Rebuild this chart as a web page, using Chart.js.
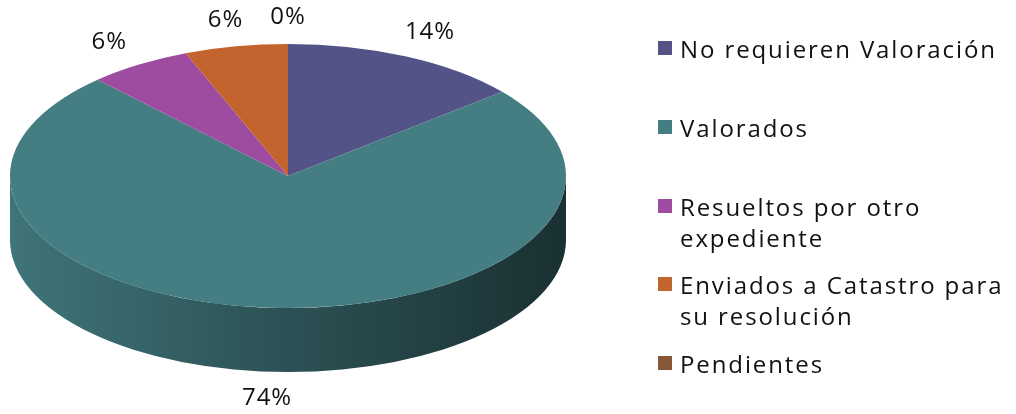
<!DOCTYPE html>
<html>
<head>
<meta charset="utf-8">
<script src="https://cdn.jsdelivr.net/npm/chart.js@4.4.0/dist/chart.umd.min.js"></script>
<style>
html, body { margin: 0; padding: 0; background: #fff; }
#wrap { position: relative; width: 1016px; height: 414px; }
#pieChart { position: absolute; left: 0; top: 0; }
#legend { position: absolute; left: 658px; top: 33px; width: 358px; font-family: 'Open Sans', sans-serif; font-size: 24px; letter-spacing: 1.9px; color: #111; }
.item { height: 78.8px; display: flex; align-items: flex-start; }
.box { width: 14px; height: 14px; margin-top: 8px; margin-right: 8px; flex: none; }
.txt { line-height: 31px; width: 336px; }
</style>
</head>
<body>
<div id="wrap">
  <canvas id="pieChart" width="1016" height="414"></canvas>
  <div id="legend"></div>
</div>
<script>
const categories = ['No requieren Valoración', 'Valorados', 'Resueltos por otro expediente', 'Enviados a Catastro para su resolución', 'Pendientes'];
const values = [14, 74, 6, 6, 0];
const colors = ['#545388', '#447E83', '#9E4C9F', '#C3632D', '#875838'];

const RATIO = 0.475;  // aplastado vertical del pastel
const DEPTH = 64;     // grosor de la pared lateral

// oscurece un color hex
function shade(hex, f) {
    const n = parseInt(hex.slice(1), 16);
    const r = Math.round(((n >> 16) & 255) * f);
    const g = Math.round(((n >> 8) & 255) * f);
    const b = Math.round((n & 255) * f);
    return `rgb(${r},${g},${b})`;
}

const pie3d = {
    id: 'pie3d',
    beforeDatasetsDraw(chart) {
        const ctx = chart.ctx;
        const arcs = chart.getDatasetMeta(0).data;
        ctx.save();
        arcs.forEach((arc, i) => {
            const { x, y, startAngle, endAngle, outerRadius } = arc;
            const ry = outerRadius * RATIO;
            // solo se ve la pared entre 0 y PI (mitad de abajo)
            [0, 2 * Math.PI].forEach(off => {
                const a = Math.max(startAngle, off);
                const b = Math.min(endAngle, off + Math.PI);
                if (b <= a) return;
                const grad = ctx.createLinearGradient(x - outerRadius, 0, x + outerRadius, 0);
                grad.addColorStop(0, shade(colors[i], 0.92));
                grad.addColorStop(0.5, shade(colors[i], 0.64));
                grad.addColorStop(1, shade(colors[i], 0.38));
                ctx.beginPath();
                ctx.ellipse(x, y, outerRadius, ry, 0, a, b);
                ctx.ellipse(x, y + DEPTH, outerRadius, ry, 0, b, a, true);
                ctx.closePath();
                ctx.fillStyle = grad;
                ctx.fill();
            });
        });
        const cy = arcs[0].y;
        ctx.translate(0, cy);
        ctx.scale(1, RATIO);
        ctx.translate(0, -cy);
    },
    afterDatasetsDraw(chart) {
        chart.ctx.restore();
    },
    afterDraw(chart) {
        const ctx = chart.ctx;
        const arcs = chart.getDatasetMeta(0).data;
        ctx.save();
        ctx.font = '24px "Open Sans"';
        ctx.letterSpacing = '1px';
        ctx.fillStyle = '#111';
        ctx.textAlign = 'center';
        ctx.textBaseline = 'middle';
        arcs.forEach((arc, i) => {
            const mid = (arc.startAngle + arc.endAngle) / 2;
            const k = 1.2;
            let lx = arc.x + Math.cos(mid) * arc.outerRadius * k;
            let ly = arc.y + Math.sin(mid) * arc.outerRadius * RATIO * k;
            if (Math.sin(mid) > 0) ly += DEPTH;
            ctx.fillText(values[i] + '%', lx, ly);
        });
        ctx.restore();
    }
};

const ctx = document.getElementById('pieChart').getContext('2d');
new Chart(ctx, {
    type: 'pie',
    data: {
        labels: categories,
        datasets: [{
            data: values,
            backgroundColor: colors,
            borderWidth: 0,
            radius: 278,
            clip: false
        }]
    },
    options: {
        responsive: false,
        animation: false,
        events: [],
        layout: { padding: { left: 10, right: 450, top: 2, bottom: 64 } },
        plugins: {
            legend: { display: false },
            tooltip: { enabled: false }
        }
    },
    plugins: [pie3d]
});

// leyenda a la derecha
const legend = document.getElementById('legend');
categories.forEach((c, i) => {
    const item = document.createElement('div');
    item.className = 'item';
    item.innerHTML = `<div class="box" style="background:${colors[i]}"></div><div class="txt">${c}</div>`;
    legend.appendChild(item);
});
</script>
</body>
</html>
